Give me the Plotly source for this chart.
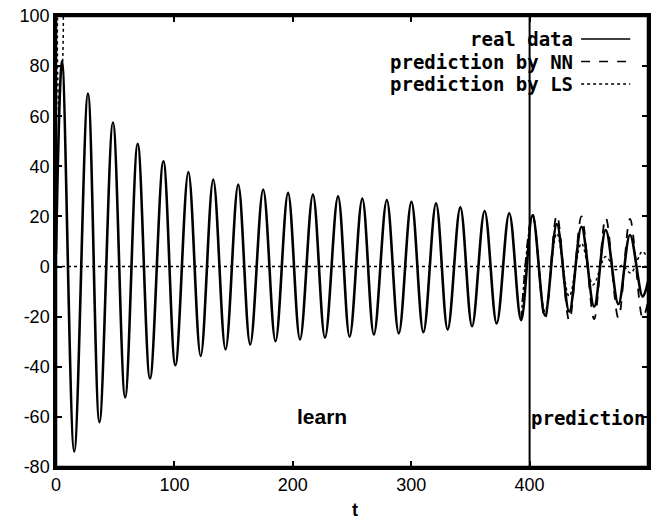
import plotly.graph_objects as go

# ---- data (extrema of each curve) ----
real_t = [0, 5.1, 15.4, 27, 36.7, 48.1, 58.4, 69, 79.4, 90.7, 100.8, 111.8, 122.2,
          132.8, 143.2, 153.9, 164, 175, 185.4, 196, 206.1, 217, 227.2, 238.2, 248,
          258.7, 268.5, 279.4, 289.5, 300.2, 310.3, 321, 330.8, 341.5, 351.4, 362,
          372.2, 382.8, 392.8, 402.5, 413, 423, 433.5, 443.8, 454.5, 464.3, 475,
          484.8, 495.5, 500]
real_v = [5, 82, -73.8, 69, -62.1, 57.5, -52.2, 49, -44.7, 42, -39.4, 37.7, -35.7,
          34.7, -33.1, 32.7, -31.1, 30.7, -29.8, 29.4, -29.1, 28.7, -28.4, 28, -28,
          27.1, -27.1, 26.5, -26.7, 25.8, -26.2, 25.2, -25.1, 23.6, -23.8, 22.2,
          -22.7, 21.3, -21.4, 20.5, -19.5, 17, -18, 15.9, -16, 14.6, -15, 12.6,
          -12, -6]

nn_t = [392.8, 402.5, 413, 423, 433.5, 443.8, 454.5, 464.3, 475, 484.8, 495.5, 500]
nn_v = [-21.4, 21, -21, 20.5, -21.5, 20, -21, 19.5, -20.5, 19, -20.5, -14]

ls_t = [2.5, 3.2, 4.6, 5.5, None,
        392.8, 402.5, 413, 423, 433.4, 443.8, 453.6, 464.3, 472.7, 478.3, 485.4,
        495.2, 500]
ls_v = [55, 108, 108, 80, None,
        -21.4, 20, -18, 13.3, -11.9, 9.3, -7.3, 4, -1.3, 0.5, -2.6, 6, 3]

series_names = ["real data", "prediction by NN", "prediction by LS"]
x_ticks = [0, 100, 200, 300, 400, 500]
x_ticktext = ["0", "100", "200", "300", "400", "500"]
y_ticks = [-80, -60, -40, -20, 0, 20, 40, 60, 80, 100]
y_ticktext = ["-80", "-60", "-40", "-20", "0", "20", "40", "60", "80", "100"]
x_title = "t"
split_t = 400
region_labels = ["learn", "prediction"]

fig = go.Figure()
fig.add_trace(go.Scatter(x=real_t, y=real_v, mode="lines", name=series_names[0],
                         line=dict(color="black", width=2.6, shape="spline", smoothing=1.0)))
fig.add_trace(go.Scatter(x=nn_t, y=nn_v, mode="lines", name=series_names[1],
                         line=dict(color="black", width=1.8, dash="dash", shape="spline", smoothing=1.0)))
fig.add_trace(go.Scatter(x=ls_t, y=ls_v, mode="lines", name=series_names[2],
                         line=dict(color="black", width=1.5, dash="dot", shape="spline", smoothing=1.0),
                         connectgaps=False))

shapes = [
    dict(type="line", xref="x", yref="y", x0=0, x1=500, y0=0, y1=0,
         line=dict(color="black", width=1.5, dash="dot")),
    dict(type="line", xref="x", yref="y", x0=split_t, x1=split_t, y0=-80, y1=100,
         line=dict(color="black", width=2)),
    dict(type="rect", xref="paper", yref="paper", x0=0, x1=1, y0=0, y1=1,
         line=dict(color="black", width=2.5), layer="above"),
]

mono = "DejaVu Sans Mono"
annotations = []
leg_y = [0.949, 0.899, 0.849]
dashes = ["solid", "dash", "dot"]
for name, yy, d in zip(series_names, leg_y, dashes):
    annotations.append(dict(xref="paper", yref="paper", x=0.877, y=yy, text="<b>" + name + "</b>",
                            showarrow=False, xanchor="right", yanchor="middle",
                            font=dict(family=mono, size=19, color="black")))
    shapes.append(dict(type="line", xref="paper", yref="paper", x0=0.887, x1=0.970, y0=yy, y1=yy,
                       line=dict(color="black", width=1.5, dash=d)))

annotations.append(dict(xref="x", yref="y", x=225, y=-60, text="<b>" + region_labels[0] + "</b>",
                        showarrow=False, font=dict(family="Liberation Sans", size=21, color="black")))
annotations.append(dict(xref="x", yref="y", x=449.5, y=-60.5, text="<b>" + region_labels[1] + "</b>",
                        showarrow=False, font=dict(family=mono, size=19, color="black")))
annotations.append(dict(xref="paper", yref="paper", x=0.505, y=-0.095, text="<b>" + x_title + "</b>",
                        showarrow=False, yanchor="middle",
                        font=dict(family="Liberation Sans", size=18, color="black")))

axis_common = dict(showline=True, linecolor="black", linewidth=2.5, mirror="allticks",
                   ticks="inside", ticklen=6, tickwidth=2, tickcolor="black",
                   showgrid=False, zeroline=False, automargin=False,
                   tickfont=dict(family="Liberation Sans", size=18, color="black"))

fig.update_layout(
    width=663, height=521,
    margin=dict(l=56, r=15, t=16, b=54),
    paper_bgcolor="white", plot_bgcolor="white",
    showlegend=False,
    shapes=shapes, annotations=annotations,
    xaxis=dict(range=[0, 500], tickvals=x_ticks, ticktext=x_ticktext, **axis_common),
    yaxis=dict(range=[-80, 100], tickvals=y_ticks, ticktext=y_ticktext, **axis_common),
)

fig.write_html("out.html", config={"displayModeBar": False},
               post_script="document.body.style.margin='0';document.body.style.overflow='hidden';")
